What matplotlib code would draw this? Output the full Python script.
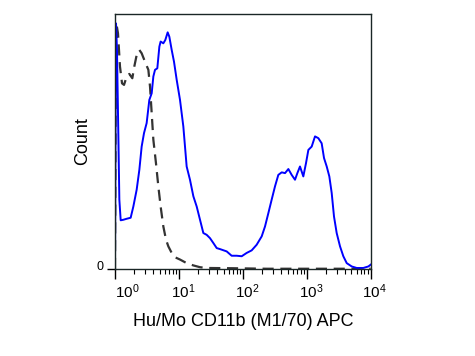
import matplotlib
matplotlib.use("Agg")
import matplotlib.pyplot as plt
import matplotlib.transforms as mtransforms
import numpy as np

plt.rcParams['font.family'] = ['Liberation Sans', 'DejaVu Sans']
plt.rcParams['mathtext.default'] = 'regular'

# log10 of fluorescence intensity and count (% of max) for stained sample
stained_log = [0.000, 0.010, 0.016, 0.031, 0.052, 0.068, 0.089, 0.130, 0.183, 0.245,
               0.287, 0.339, 0.381, 0.417, 0.454, 0.495, 0.537, 0.574, 0.600, 0.626,
               0.662, 0.694, 0.714, 0.756, 0.787, 0.824, 0.850, 0.887, 0.923, 0.965,
               1.017, 1.069, 1.121, 1.173, 1.226, 1.278, 1.330, 1.382, 1.434, 1.486,
               1.538, 1.591, 1.643, 1.747, 1.825, 1.904, 1.982, 2.060, 2.138, 2.216,
               2.295, 2.347, 2.399, 2.451, 2.503, 2.555, 2.608, 2.660, 2.712, 2.764,
               2.816, 2.853, 2.894, 2.946, 2.988, 3.025, 3.077, 3.129, 3.181, 3.233,
               3.270, 3.312, 3.353, 3.390, 3.426, 3.468, 3.520, 3.572, 3.625, 3.703,
               3.781, 3.885, 3.964, 4.000]
stained_count = [0, 66.3, 96.3, 85.9, 53.3, 27.2, 19.1, 19.3, 19.7, 20.1,
                 24.5, 31.1, 38.9, 48.0, 53.3, 57.2, 66.3, 68.9, 75.5, 78.1,
                 78.7, 87.2, 89.2, 88.5, 89.8, 92.8, 91.1, 85.9, 81.3, 74.2,
                 66.3, 55.9, 40.2, 35.0, 28.5, 24.5, 19.3, 14.1, 13.4, 12.1,
                 10.2, 8.2, 7.8, 6.9, 5.2, 5.2, 5.0, 6.3, 7.3, 9.5,
                 12.8, 16.7, 21.9, 27.2, 32.4, 36.9, 37.9, 37.6, 39.2, 36.9,
                 35.0, 37.6, 40.2, 36.3, 41.5, 46.7, 48.0, 52.0, 51.3, 49.3,
                 43.5, 40.2, 36.3, 29.8, 20.6, 14.1, 8.9, 5.0, 2.3, 1.0,
                 0.4, 0.4, 1.0, 1.7]

# isotype / unstained control
control_log = [0.000, 0.010, 0.021, 0.047, 0.078, 0.110, 0.141, 0.183, 0.224, 0.271,
               0.302, 0.339, 0.381, 0.417, 0.469, 0.522, 0.548, 0.574, 0.600, 0.641,
               0.678, 0.714, 0.756, 0.798, 0.834, 0.887, 0.939, 1.017, 1.121, 1.226,
               1.330, 1.434, 1.851, 2.373, 4.000]
control_count = [0, 66.3, 96.3, 92.4, 79.4, 72.8, 72.2, 75.5, 76.5, 74.8,
                 79.4, 83.9, 85.9, 84.6, 81.3, 78.1, 71.5, 61.1, 50.7, 41.5,
                 32.4, 24.5, 16.7, 11.5, 8.9, 6.3, 4.6, 3.7, 2.3, 1.4,
                 0.7, 0.4, 0.3, 0.1, 0.1]

xtick_vals = [1, 10, 100, 1000, 10000]
xtick_labels = ['$10^{0}$', '$10^{1}$', '$10^{2}$', '$10^{3}$', '$10^{4}$']

fig = plt.figure(figsize=(4.75, 3.56), dpi=100)
ax = fig.add_axes([0.2421, 0.2444, 0.5383, 0.7163])

ax.plot(10 ** np.array(control_log), control_count, color='#333333', lw=1.6,
        dashes=(5, 3))
ax.plot(10 ** np.array(stained_log), stained_count, color='#0000ff', lw=1.4)

ax.set_xscale('log')
ax.set_xlim(1, 10000)
ax.set_ylim(0, 100)
ax.set_xticks(xtick_vals, xtick_labels, fontsize=11)
ax.set_yticks([0], ['0'], fontsize=9)
ax.tick_params(axis='x', which='major', direction='out', length=7, width=1, pad=3)
ax.tick_params(axis='x', which='minor', direction='out', length=3.5, width=0.8)
ax.tick_params(axis='y', direction='out', length=6, width=1, pad=2)

for s in ax.spines.values():
    s.set_color('#1a2626')
    s.set_linewidth(1.0)

ax.set_ylabel('Count', fontsize=13, labelpad=4)
ax.set_xlabel('Hu/Mo CD11b (M1/70) APC', fontsize=13, labelpad=8)

# small label offsets as in the original
for i, t in enumerate(ax.xaxis.get_major_ticks()):
    dx = 12 if i == 0 else 4
    off = mtransforms.ScaledTranslation(dx / 100, 0, fig.dpi_scale_trans)
    t.label1.set_transform(t.label1.get_transform() + off)
for t in ax.yaxis.get_major_ticks():
    off = mtransforms.ScaledTranslation(0, 3 / 100, fig.dpi_scale_trans)
    t.label1.set_transform(t.label1.get_transform() + off)

fig.savefig('out.png', dpi=100)
